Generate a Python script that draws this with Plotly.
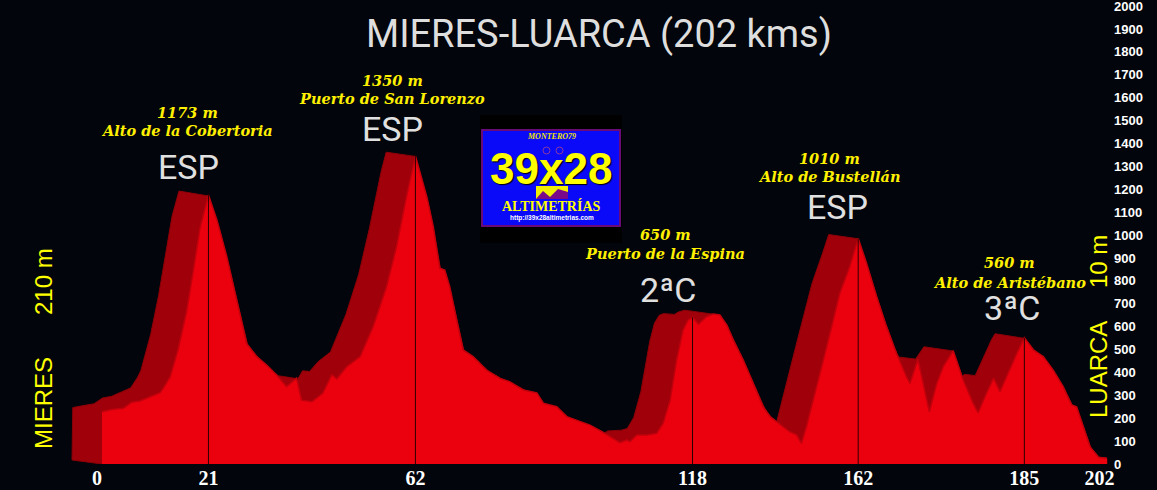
import numpy as np
import plotly.graph_objects as go

# ---------------- data ----------------
route_title = "MIERES-LUARCA (202 kms)"

front_km = [0.0, 2.0, 4.3, 5.0, 6.0, 7.6, 9.6, 11.7, 12.3, 13.7, 15.3, 17.0, 18.4, 19.7, 21.4,
            23.1, 25.1, 27.1, 29.1, 31.1, 33.1, 35.1, 37.1, 39.1, 40.1, 42.2, 44.4, 46.2, 47.2,
            49.2, 51.9, 54.5, 57.2, 59.2, 61.2, 63.0, 65.3, 66.6, 67.9, 68.9, 69.9, 71.3, 72.6,
            74.6, 77.3, 80.0, 82.0, 84.7, 87.4, 88.7, 91.4, 93.4, 96.1, 98.1, 100.8, 102.8,
            104.1, 105.5, 106.1, 107.5, 109.5, 111.5, 112.8, 114.2, 115.5, 116.8, 117.8, 118.7,
            119.9, 121.5, 122.9, 124.2, 125.6, 126.9, 128.9, 130.9, 132.9, 134.3, 135.6, 136.3,
            138.2, 139.6, 140.6, 141.6, 143.0, 145.0, 147.0, 148.3, 150.3, 152.0, 153.7, 155.7,
            157.7, 159.7, 161.7, 162.4, 164.0, 166.3, 167.8, 169.1, 171.1, 173.1, 175.1, 176.1,
            177.8, 179.2, 180.5, 181.8, 183.9, 185.4, 187.2, 189.2, 191.2, 193.2, 194.9, 195.9,
            197.2, 198.6, 200.3, 202.0]
front_elev = [228, 238, 243, 255, 270, 275, 294, 312, 330, 380, 500, 665, 850, 1030, 1175,
              1066, 905, 716, 525, 469, 432, 389, 338, 375, 279, 272, 310, 390, 372,
              425, 469, 600, 774, 949, 1167, 1345, 1167, 1036, 855, 847, 774, 629, 498,
              469, 410, 374, 359, 323, 311, 265, 250, 207, 185, 170, 137, 112,
              93, 105, 97, 127, 127, 134, 178, 279, 454, 585, 629, 640,
              611, 643, 655, 651, 607, 541, 454, 352, 250, 207, 185, 172,
              141, 127, 90, 163, 279, 454, 629, 745, 862, 985, 876, 731,
              600, 483, 381, 352, 457, 228, 352, 425, 495, 367, 265, 224,
              309, 375, 316, 381, 483, 552, 498, 469, 410, 338, 258, 250,
              163, 76, 29, 25]

summit_km = [21.4, 63.0, 118.7, 152.0, 185.4]
summit_labels = ["21", "62", "118", "162", "185"]
summit_heights = ["1173 m", "1350 m", "650 m", "1010 m", "560 m"]
summit_names = ["Alto de la Cobertoria", "Puerto de San Lorenzo", "Puerto de la Espina",
                "Alto de Bustellán", "Alto de Aristébano"]
summit_cat = ["ESP", "ESP", "2ªC", "ESP", "3ªC"]

start_name, start_alt = "MIERES", "210 m"
end_name, end_alt = "LUARCA", "10 m"

y_ticks = list(range(0, 2001, 100))

# ---------------- styling / layout helpers ----------------
W, H = 1157, 490
ML, MR, MT, MB = 0, 47, 6, 26
PW, PH = W - ML - MR, H - MT - MB
KM0_PX, PX_PER_KM = 102.0, 4.975
x_range = [(ML - KM0_PX) / PX_PER_KM, (ML + PW - KM0_PX) / PX_PER_KM]

BG = "#02050b"
FRONT = "#eb000e"
FRONT_EDGE = "#c0000c"
BACK = "#a0000a"
BACK_EDGE = "#8c0008"
NB = "\u00a0"


def PX(px):
    return (px - ML) / PW


def PY(py):
    return (MT + PH - py) / PH


# 3D extrusion (back face swept from the front profile)
DX, DY = 6.03, 17.5
fk = np.array(front_km, dtype=float)
fe = np.array(front_elev, dtype=float)
grid = np.arange(-DX, fk[-1] + 1e-9, 0.05)
env = np.full_like(grid, -1e9)
for t in np.linspace(0, 1, 121):
    xs = grid + DX * t
    valid = (xs >= fk[0]) & (xs <= fk[-1])
    vals = np.interp(xs, fk, fe) + DY * t
    env = np.where(valid, np.maximum(env, vals), env)

back_x = np.concatenate([[-DX], grid, [fk[-1], fk[0], -DX]])
back_y = np.concatenate([[DY], env, [0, 0, DY]])

fig = go.Figure()
fig.add_trace(go.Scatter(x=back_x, y=back_y, mode="lines", fill="toself",
                         fillcolor=BACK, line=dict(color=BACK_EDGE, width=1),
                         hoverinfo="skip", showlegend=False))
fig.add_trace(go.Scatter(x=front_km, y=front_elev, mode="lines", fill="tozeroy",
                         fillcolor=FRONT, line=dict(color=FRONT_EDGE, width=1.5),
                         hoverinfo="skip", showlegend=False))
for k in summit_km:
    fig.add_trace(go.Scatter(x=[k, k], y=[0, float(np.interp(k, fk, fe))], mode="lines",
                             line=dict(color="#2a0000", width=1),
                             hoverinfo="skip", showlegend=False))

ann = []
# title
ann.append(dict(x=PX(599), y=PY(34), text=route_title,
                font=dict(family="Roboto", size=38, color="#dedede")))

# summit labels
label_pos = [(187, 112, 130, 188, 167), (392, 80, 99, 392, 129), (665, 234, 253, 668, 290),
             (829, 158, 176, 837, 207), (1009, 263, 282, 1012, 308)]
for (cx, yh, yn, ex, ey), h, n, c in zip(label_pos, summit_heights, summit_names, summit_cat):
    sf = dict(family="DejaVu Serif", size=14.5, color="#fff000", weight="bold", style="italic")
    ann.append(dict(x=PX(cx), y=PY(yh), text=h, font=sf))
    ann.append(dict(x=PX(cx), y=PY(yn), text=n, font=sf))
    ann.append(dict(x=PX(ex), y=PY(ey), text=c,
                    font=dict(family="Roboto", size=34, color="#e0e0e0")))

# side labels
side_font = dict(family="Liberation Sans", size=24, color="#ffff00")
ann.append(dict(x=PX(43), y=PY(403), text=start_name, textangle=-90, font=side_font))
ann.append(dict(x=PX(43), y=PY(282), text=start_alt, textangle=-90, font=side_font))
ann.append(dict(x=PX(1098), y=PY(370), text=end_name, textangle=-90, font=side_font))
ann.append(dict(x=PX(1098), y=PY(262), text=end_alt, textangle=-90, font=side_font))

# logo
shapes = [
    dict(type="rect", xref="paper", yref="paper", x0=PX(480), x1=PX(622), y0=PY(243), y1=PY(115),
         fillcolor="#000000", line=dict(width=0), layer="above"),
    dict(type="rect", xref="paper", yref="paper", x0=PX(482), x1=PX(620), y0=PY(226), y1=PY(130),
         fillcolor="#0a0af8", line=dict(color="#6a0a78", width=2), layer="above"),
    dict(type="rect", xref="paper", yref="paper", x0=PX(536), x1=PX(568), y0=PY(199), y1=PY(186),
         fillcolor="#f0f000", line=dict(width=0), layer="above"),
    dict(type="path", xref="paper", yref="paper", layer="above", fillcolor="#7a0a8a",
         line=dict(width=0),
         path="M {0},{1} L {2},{3} L {4},{5} L {6},{7} L {8},{9} L {10},{11} Z".format(
             PX(536), PY(199), PX(543), PY(191), PX(550), PY(197), PX(558), PY(189),
             PX(568), PY(192), PX(568), PY(199))),
    dict(type="circle", xref="paper", yref="paper", x0=PX(543), x1=PX(550), y0=PY(154), y1=PY(147),
         line=dict(color="#8a3aa0", width=1), layer="above"),
    dict(type="circle", xref="paper", yref="paper", x0=PX(556), x1=PX(563), y0=PY(154), y1=PY(147),
         line=dict(color="#8a3aa0", width=1), layer="above"),
]
ann.append(dict(x=PX(551), y=PY(137), text="MONTERO79",
                font=dict(family="Liberation Serif", size=8, color="#f0e000", weight="bold", style="italic")))
ann.append(dict(x=PX(551), y=PY(168), text="39x28",
                font=dict(family="Liberation Sans", size=44, color="#ffff00",
                          weight="bold", shadow="1px 1px 1px #000")))
ann.append(dict(x=PX(551), y=PY(206), text="ALTIMETRÍAS",
                font=dict(family="Liberation Serif", size=14, color="#ffff00", weight="bold")))
ann.append(dict(x=PX(552), y=PY(218), text="http://39x28altimetrias.com",
                font=dict(family="Liberation Sans", size=6.5, color="#ffffff", weight="bold")))

for a in ann:
    a.update(xref="paper", yref="paper", showarrow=False, xanchor="center", yanchor="middle")

x_ticktext = ["0" + NB * 2] + summit_labels + ["202" + NB * 3]

fig.update_layout(
    width=W, height=H,
    margin=dict(l=ML, r=MR, t=MT, b=MB, pad=0),
    paper_bgcolor=BG, plot_bgcolor=BG,
    showlegend=False,
    annotations=ann,
    shapes=shapes,
    xaxis=dict(range=x_range, tickmode="array", tickvals=[0] + summit_km + [202],
               ticktext=x_ticktext, showgrid=False, zeroline=False,
               showline=False, ticks="", automargin=False, fixedrange=True,
               ticklabelstandoff=0,
               tickfont=dict(family="Liberation Serif", size=20, color="#ffffff", weight="bold")),
    yaxis=dict(range=[0, 2000.5], side="right", tickmode="array", tickvals=y_ticks,
               showgrid=False, zeroline=False, showline=False, ticks="", automargin=False,
               fixedrange=True, ticklabelstandoff=3, ticklabeloverflow="allow",
               tickfont=dict(family="Liberation Sans", size=13, color="#ffffff", weight="bold")),
)

fig.write_html("out.html", config={"displayModeBar": False},
               post_script="document.body.style.margin='0px';")
